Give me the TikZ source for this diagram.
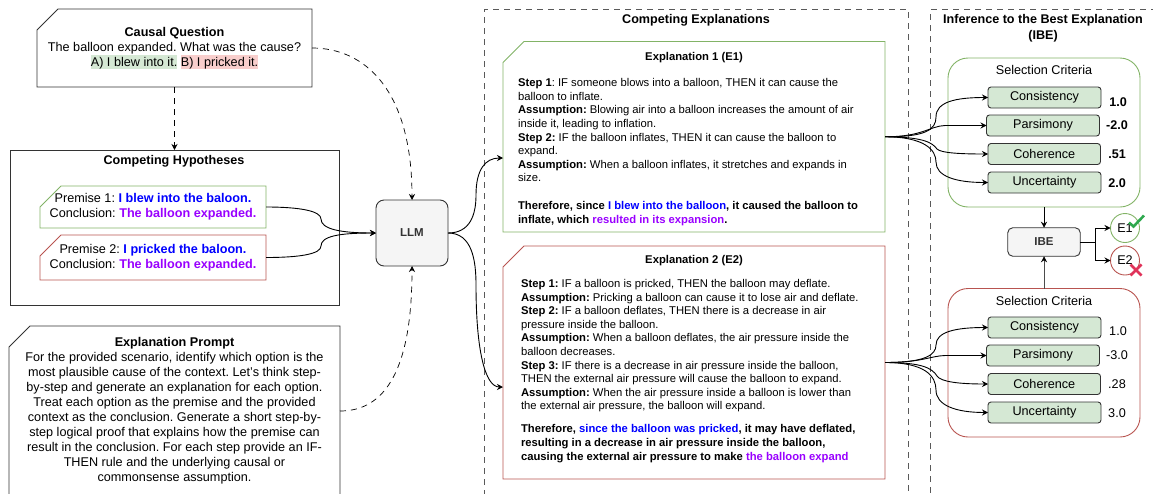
\documentclass[tikz,border=0pt]{standalone}
\usepackage{fontspec}
\setmainfont{Liberation Sans}
\frenchspacing
\usetikzlibrary{arrows.meta}
\definecolor{gline}{HTML}{82B366}
\definecolor{rline}{HTML}{B85450}
\definecolor{gfill}{HTML}{D5E8D4}
\definecolor{rfill}{HTML}{F8CECC}
\definecolor{pblue}{HTML}{0000FF}
\definecolor{ppurple}{HTML}{9900FF}
\definecolor{dark}{HTML}{333333}
\newcommand{\hlbox}[2]{{\setlength{\fboxsep}{0pt}\colorbox{#1}{\rule[-3pt]{0pt}{14pt}#2}}}
\newcommand{\bl}[1]{\textcolor{pblue}{\textbf{#1}}}
\newcommand{\pu}[1]{\textcolor{ppurple}{\textbf{#1}}}
\tikzset{
  every node/.style={inner sep=0pt,outer sep=0pt,text=black},
  base/.style={font=\fontsize{12.65}{15}\selectfont\frenchspacing,align=center},
  small/.style={font=\fontsize{11.25}{13.6}\selectfont\frenchspacing},
  cutbox/.style={rectangle,append after command={\pgfextra{
    \draw[draw=#1,line width=.9pt] ([xshift=21pt]\tikzlastnode.north west) -- (\tikzlastnode.north east)
      -- (\tikzlastnode.south east) -- (\tikzlastnode.south west)
      -- ([yshift=-21pt]\tikzlastnode.north west) -- cycle;}}},
  plainbox/.style={draw=dark,line width=.9pt},
  area/.style={draw=black!65,line width=.8pt,dash pattern=on 6pt off 5pt},
  crit/.style={rectangle,rounded corners=3pt,draw=dark,line width=.9pt,fill=gfill,base,minimum height=21pt},
  proc/.style={rectangle,draw=dark,line width=.9pt,fill=black!4,text=dark,font=\fontsize{11.5}{14}\selectfont\bfseries},
  panel/.style={rectangle,rounded corners=20pt,draw=#1,line width=.9pt,minimum width=192pt},
  val/.style={base},
  vote/.style={circle,draw=#1,line width=.9pt,minimum size=29pt,base},
  conn/.style={draw=black,line width=.9pt,-{Stealth[length=6pt,width=6pt,inset=2pt,color=black]}},
  dconn/.style={conn,line width=.7pt,dash pattern=on 6pt off 5pt},
}
\begin{document}
\begin{tikzpicture}[x=1pt,y=-1pt]
\useasboundingbox (0,0) rectangle (1153,493);
\clip (0,0) rectangle (1153,493);

% dashed areas
\node[area,rectangle,anchor=north west,minimum width=423.5pt,minimum height=520pt] (areaE) at (484.5,9) {};
\node[area,rectangle,anchor=north west,minimum width=260pt,minimum height=520pt] (areaI) at (930.5,9) {};
\node[base,font=\fontsize{12.6}{15}\selectfont\bfseries] (areaEt) at (696,20.5) {Competing Explanations};
\node[base,font=\fontsize{12.6}{16}\selectfont\bfseries] (areaIt) at (1043,28.5) {Inference to the Best Explanation\\(IBE)};

% causal question
\node[cutbox=dark,base,minimum width=275pt,minimum height=78pt] (cq) at (174.5,48)
  {\textbf{Causal Question}\\The balloon expanded. What was the cause?\\
   \hlbox{gfill}{A) I blew into it.} \hlbox{rfill}{B) I pricked it.}};

% hypotheses
\node[plainbox,rectangle,minimum width=329pt,minimum height=155pt] (hyp) at (174.5,227.5) {};
\node[base,font=\fontsize{12.6}{15}\selectfont\bfseries] (hypt) at (174,161.5) {Competing Hypotheses};
\node[cutbox=gline,base,minimum width=226pt,minimum height=42pt] (p1) at (153,207)
  {Premise 1: \bl{I blew into the baloon.}\\Conclusion: \pu{The balloon expanded.}};
\node[cutbox=rline,base,minimum width=226pt,minimum height=45pt] (p2) at (153,257.5)
  {Premise 2: \bl{I pricked the baloon.}\\Conclusion: \pu{The balloon expanded.}};

% LLM
\node[proc,rounded corners=8pt,minimum width=72pt,minimum height=66pt] (llm) at (412,233) {LLM};

% prompt
\node[cutbox=dark,base,minimum width=331pt,minimum height=170pt] (prompt) at (174.5,411)
  {\textbf{Explanation Prompt}\\
   For the provided scenario, identify which option is the\\
   most plausible cause of the context. Let's think step-\\
   by-step and generate an explanation for each option.\\
   Treat each option as the premise and the provided\\
   context as the conclusion. Generate a short step-by-\\
   step logical proof that explains how the premise can\\
   result in the conclusion. For each step provide an IF-\\
   THEN rule and the underlying causal or\\
   commonsense assumption.};

% explanations
\node[cutbox=gline,small,minimum width=382pt,minimum height=190.5pt] (e1) at (694,136.75)
  {\begin{minipage}{352pt}\raggedright
   \parbox{\linewidth}{\centering\textbf{Explanation 1 (E1)}}\\[12.4pt]
   \textbf{Step 1}: IF someone blows into a balloon, THEN it can cause the\\
   balloon to inflate.\\
   \textbf{Assumption:} Blowing air into a balloon increases the amount of air\\
   inside it, leading to inflation.\\
   \textbf{Step 2:} IF the balloon inflates, THEN it can cause the balloon to\\
   expand.\\
   \textbf{Assumption:} When a balloon inflates, it stretches and expands in\\
   size.\\[14.4pt]
   \textbf{Therefore, since }\bl{I blew into the balloon}\textbf{, it caused the balloon to}\\
   \textbf{inflate, which }\pu{resulted in its expansion}\textbf{.}
   \vspace{-5pt}
   \end{minipage}};
\node[cutbox=rline,small,minimum width=382pt,minimum height=233pt] (e2) at (694,362.5)
  {\begin{minipage}{346pt}\raggedright
   \parbox{\linewidth}{\centering\textbf{Explanation 2 (E2)}}\\[10.4pt]
   \textbf{Step 1:} IF a balloon is pricked, THEN the balloon may deflate.\\
   \textbf{Assumption:} Pricking a balloon can cause it to lose air and deflate.\\
   \textbf{Step 2:} IF a balloon deflates, THEN there is a decrease in air\\
   pressure inside the balloon.\\
   \textbf{Assumption:} When a balloon deflates, the air pressure inside the\\
   balloon decreases.\\
   \textbf{Step 3:} IF there is a decrease in air pressure inside the balloon,\\
   THEN the external air pressure will cause the balloon to expand.\\
   \textbf{Assumption:} When the air pressure inside a balloon is lower than\\
   the external air pressure, the balloon will expand.\\[9.4pt]
   \textbf{Therefore, }\bl{since the balloon was pricked}\textbf{, it may have deflated,}\\
   \textbf{resulting in a decrease in air pressure inside the balloon,}\\
   \textbf{causing the external air pressure to make }\pu{the balloon expand}
   \vspace{7pt}
   \end{minipage}};

% selection panel E1
\node[panel=gline,minimum height=149pt] (sel1) at (1044,132.5) {};
\node[base] (sel1t) at (1044,69.5) {Selection Criteria};
\node[crit,minimum width=113pt] (c1) at (1044.5,97.5) {Consistency};
\node[crit,minimum width=113pt] (c2) at (1043,125.5) {Parsimony};
\node[crit,minimum width=112.5pt] (c3) at (1044.25,154) {Coherence};
\node[crit,minimum width=113pt] (c4) at (1044.5,182.5) {Uncertainty};
\node[val,font=\fontsize{12.6}{15}\selectfont\bfseries] (v1) at (1118,102) {1.0};
\node[val,font=\fontsize{12.6}{15}\selectfont\bfseries] (v2) at (1117,125.5) {-2.0};
\node[val,font=\fontsize{12.6}{15}\selectfont\bfseries] (v3) at (1117,154) {.51};
\node[val,font=\fontsize{12.6}{15}\selectfont\bfseries] (v4) at (1117,183) {2.0};

% selection panel E2
\node[panel=rline,minimum height=148.5pt] (sel2) at (1044,362.75) {};
\node[base] (sel2t) at (1044,300.5) {Selection Criteria};
\node[crit,minimum width=113pt] (d1) at (1044.5,327.5) {Consistency};
\node[crit,minimum width=113pt] (d2) at (1043,355.5) {Parsimony};
\node[crit,minimum width=112.5pt] (d3) at (1044.25,384) {Coherence};
\node[crit,minimum width=113pt] (d4) at (1044.5,412.5) {Uncertainty};
\node[val] (w1) at (1118,331.5) {1.0};
\node[val] (w2) at (1117,355.5) {-3.0};
\node[val] (w3) at (1117,384) {.28};
\node[val] (w4) at (1117,413) {3.0};

% IBE and outcomes
\node[proc,rounded corners=5pt,minimum width=72.5pt,minimum height=28.5pt] (ibe) at (1044,242) {IBE};
\node[vote=gline] (o1) at (1125,228) {E1};
\node[vote=rline] (o2) at (1125,260.5) {E2};
\draw[draw={rgb,255:red,46;green,168;blue,78},line width=2.6pt] (1129,222.5) -- (1133.5,226.5) -- (1144,215.5);
\draw[draw={rgb,255:red,224;green,51;blue,90},line width=2.6pt] (1130.5,264.5) -- (1141.5,275.5) (1141.5,264.5) -- (1130.5,275.5);

% connectors
\draw[dconn] (cq.south) -- (hyp.north);
\draw[dconn] (cq.east) .. controls (365,48) and (412,90) .. (llm.north);
\draw[dconn] (prompt.east) .. controls (385,411) and (412,370) .. (llm.south);
\draw[conn] (p1.east) .. controls (300,207) and (321,211) .. (321,219) .. controls (321,229) and (340,233) .. (llm.west);
\draw[conn] (p2.east) .. controls (300,257.5) and (321,254) .. (321,246) .. controls (321,236) and (340,233) .. (llm.west);
\draw[conn] (llm.east) .. controls (470,233) and (476,215) .. (476,195) .. controls (476,170) and (485,158) .. (503,158);
\draw[conn] (llm.east) .. controls (472,233) and (476,260) .. (476,285) .. controls (476,350) and (485,387) .. (503,387);

\draw[conn] (e1.east) .. controls (925,137) and (936,130) .. (936,117) .. controls (936,102) and (955,97.5) .. (c1.west);
\draw[conn] (e1.east) .. controls (922,137) and (930,126) .. (945,125.5) -- (c2.west);
\draw[conn] (e1.east) .. controls (922,137) and (932,142) .. (937,149) .. controls (941,153) and (960,154) .. (c3.west);
\draw[conn] (e1.east) .. controls (925,137) and (936,150) .. (936,162) .. controls (936,176) and (955,182.5) .. (c4.west);

\draw[conn] (e2.east) .. controls (925,362.5) and (936,355) .. (936,345) .. controls (936,332) and (955,327.5) .. (d1.west);
\draw[conn] (e2.east) .. controls (922,362.5) and (930,356) .. (945,355.5) -- (d2.west);
\draw[conn] (e2.east) .. controls (922,362.5) and (932,368) .. (937,376) .. controls (941,382) and (960,384) .. (d3.west);
\draw[conn] (e2.east) .. controls (925,362.5) and (936,376) .. (936,390) .. controls (936,405) and (955,412.5) .. (d4.west);

\draw[conn] (sel1.south) -- (ibe.north);
\draw[conn,draw=black!70] (sel2.north) -- (ibe.south);
\coordinate (fork) at (1095,242);
\draw[conn] (ibe.east) -- (fork) |- (o1.west);
\draw[conn] (ibe.east) -- (fork) |- (o2.west);
\end{tikzpicture}
\end{document}
